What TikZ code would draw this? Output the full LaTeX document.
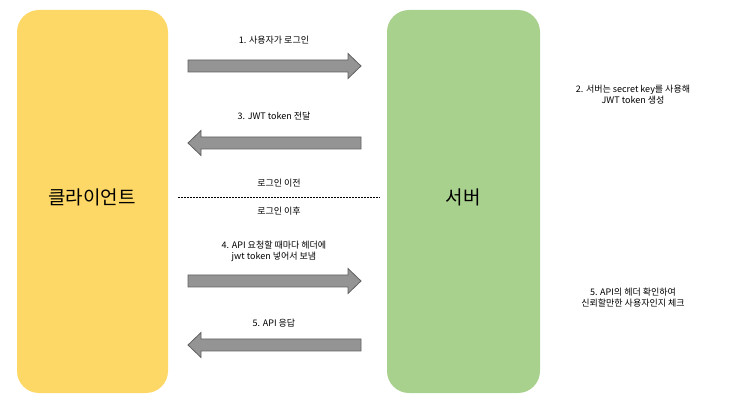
\documentclass[tikz,border=0pt]{standalone}
\usepackage{fontspec}
\setmainfont{Noto Sans CJK KR}
\newcommand\rarr[3]{\draw[blk] (#1,#3-6)--(#2-13,#3-6)--(#2-13,#3-12.5)--(#2,#3)--(#2-13,#3+12.5)--(#2-13,#3+6)--(#1,#3+6)--cycle;}
\newcommand\larr[3]{\draw[blk] (#2,#3-6)--(#1+13,#3-6)--(#1+13,#3-12.5)--(#1,#3)--(#1+13,#3+12.5)--(#1+13,#3+6)--(#2,#3+6)--cycle;}
\begin{document}
\begin{tikzpicture}[x=1pt,y=-1pt,
 box/.style={rounded corners=22pt,draw=none},
 blk/.style={fill=black!42,draw=black!62,line width=0.8pt},
 lbl/.style={font=\fontsize{9}{11}\selectfont,align=center,inner sep=0}]
\useasboundingbox (0,0) rectangle (729,406);
\fill[box,fill=yellow!55!orange!80!white,fill={rgb,255:red,254;green,216;blue,102}] (17,10) rectangle (168,393);
\fill[box,fill={rgb,255:red,169;green,209;blue,142}] (387,10) rectangle (540,393);
\node[font=\fontsize{19}{22}\selectfont] (client) at (92,197) {클라이언트};
\node[font=\fontsize{19}{22}\selectfont] (server) at (463,197) {서버};
\rarr{188}{361}{66}
\larr{188}{361}{143}
\rarr{188}{361}{281}
\larr{188}{361}{345}
\node[lbl] (t1) at (274,40) {1. 사용자가 로그인};
\node[lbl] (t3) at (274,116) {3. JWT token 전달};
\node[lbl] (t4) at (274,251) {4. API 요청할 때마다 헤더에\\jwt token 넣어서 보냄};
\node[lbl] (t5) at (274,323) {5. API 응답};
\node[lbl] (b) at (279,183) {로그인 이전};
\node[lbl] (a) at (279,211) {로그인 이후};
\draw[dashed,dash pattern=on 2pt off 1pt,line width=0.6pt] (178,197)--(380,197);
\node[lbl] (t2) at (633,95) {2. 서버는 secret key를 사용해\\JWT token 생성};
\node[lbl] (t6) at (633,298) {5. API의 헤더 확인하여\\신뢰할만한 사용자인지 체크};
\end{tikzpicture}
\end{document}
